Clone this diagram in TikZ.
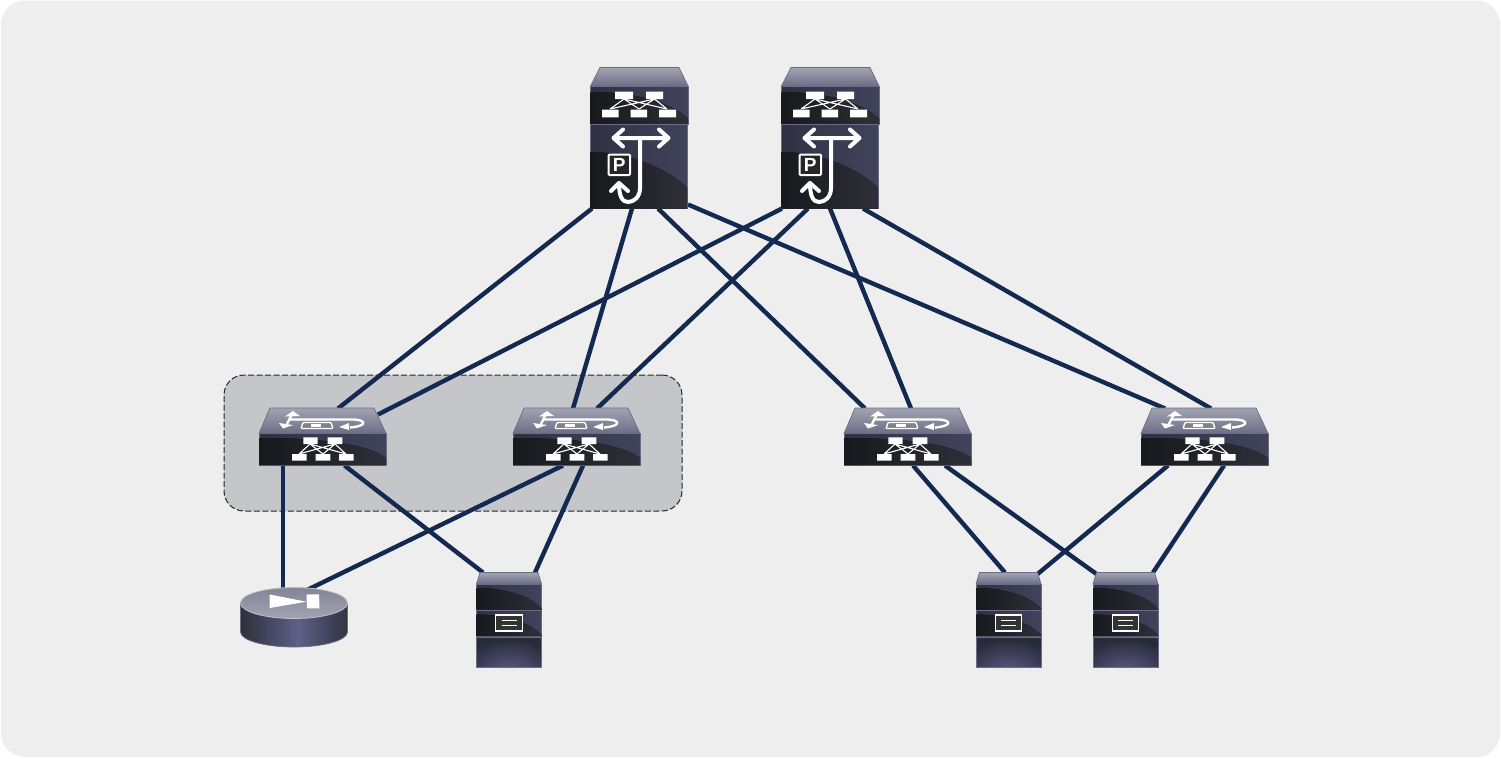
\documentclass[tikz,border=0pt]{standalone}
\usepackage{fontspec}
\setmainfont{Liberation Sans}
\usetikzlibrary{calc}
\definecolor{bgc}{HTML}{EEEEEE}
\definecolor{grp}{HTML}{C4C6CA}
\definecolor{lnk}{HTML}{14294F}
\definecolor{edgec}{HTML}{6A6C88}
\definecolor{bodyA}{HTML}{2F3142}
\definecolor{bodyB}{HTML}{41435C}
\definecolor{darkA}{HTML}{18191D}
\definecolor{darkB}{HTML}{2E2F38}
\definecolor{glow}{HTML}{5B5E88}
\definecolor{topL}{HTML}{A2A4B2}
\definecolor{topD}{HTML}{6C6E86}
\definecolor{cyA}{HTML}{4A4B5C}
\definecolor{cyB}{HTML}{2F3039}
\definecolor{cyC}{HTML}{454660}
\definecolor{cyD}{HTML}{5E6088}
\definecolor{cyE}{HTML}{3E3F55}
\definecolor{cyF}{HTML}{292A30}
\definecolor{cyG}{HTML}{4C4D5C}
\pgfdeclarehorizontalshading{cyl}{100bp}{
 color(0bp)=(cyA);color(25bp)=(cyB);color(38bp)=(cyC);color(52bp)=(cyD);color(68bp)=(cyE);color(82bp)=(cyF);color(100bp)=(cyG)}
\tikzset{
 link/.style={draw=lnk,line width=4.4pt},
 ic/.style={draw=white,line width=4pt,line cap=round,line join=round},
 icthin/.style={draw=white,line width=1.1pt},
 bodyshape/.style={left color=bodyA,right color=bodyB,draw=edgec,line width=.8pt},
 topface/.style={top color=topL,bottom color=topD,draw=edgec,line width=.7pt},
 port/.style={inner sep=0pt,outer sep=0pt,minimum size=0pt},
 coresw/.pic={
  \path[topface] (600,67.5)--(679,67.5)--(688,86)--(590.5,86)--cycle;
  \path[bodyshape] (590.5,86) rectangle (688,124);
  \begin{scope}
   \clip (590.5,86) rectangle (688,124);
   \fill[left color=darkA,right color=darkB] (590.5,92) .. controls (640,92) and (675,105) .. (688,119) -- (688,124) -- (590.5,124)--cycle;
  \end{scope}
  \path[bodyshape] (590.5,124) rectangle (687,208.5);
  \begin{scope}
   \clip (590.5,124) rectangle (687,208.5);
   \fill[left color=darkA,right color=darkB] (590.5,152) .. controls (630,152) and (670,170) .. (687,188) -- (687,208.5) -- (590.5,208.5)--cycle;
  \end{scope}
  \draw[icthin] (624,99)--(610,109) (624,99)--(639,109) (624,99)--(667,109)
   (654.5,99)--(610,109) (654.5,99)--(639,109) (654.5,99)--(667,109);
  \fill[white] (615,91.7) rectangle (633,99) (646,91.7) rectangle (663,99)
   (602,109.5) rectangle (618.7,117.3) (630.7,109.5) rectangle (647,117.3) (659,109.5) rectangle (676,117.3);
  \draw[ic] (614,138)--(668,138) (623,129.5)--(613.5,138)--(623,146.5) (659,129.5)--(668.5,138)--(659,146.5);
  \draw[ic] (640,138)--(640,188) .. controls (640,197) and (634,202) .. (628,202) .. controls (622,202) and (619,196) .. (619,183);
  \draw[ic] (611,191)--(619,183)--(628,191);
  \draw[white,fill=black!85,line width=2pt,rounded corners=1pt] (608.5,154.5) rectangle (630,175);
  \node[text=white,font=\bfseries\fontsize{19}{19}\selectfont,inner sep=0pt] (ptxt) at (619.3,164.8) {P};
 },
 leafsw/.pic={
  \path[topface] (270,408)--(374,408)--(386,433.5)--(259,433.5)--cycle;
  \path[bodyshape] (259,433.5) rectangle (386,465);
  \begin{scope}
   \clip (259,433.5) rectangle (386,465);
   \fill[left color=darkA,right color=darkB] (259,438) .. controls (310,438) and (365,442) .. (386,458) -- (386,465) -- (259,465)--cycle;
  \end{scope}
  \draw[icthin] (310,444)--(299,454) (310,444)--(323,454) (310,444)--(346,454)
   (335,444)--(299,454) (335,444)--(323,454) (335,444)--(346,454);
  \fill[white] (303.3,437.3) rectangle (317.7,444) (327.7,437.3) rectangle (342.3,444)
   (292,454) rectangle (306.7,460.7) (315.7,454) rectangle (330.3,460.7) (339,454) rectangle (353.7,460.7);
  \draw[white,line width=2.4pt,line join=round] (286,426)--(292,414)
    (290,419.5)--(354,419.5) .. controls (366,420) and (368,426) .. (350,427.5);
  \fill[white] (279,423)--(293,425)--(283,428.5)--cycle (285,416.5)--(293,411)--(300,416)--cycle;
  \fill[white] (339,427)--(349,423)--(349,430)--cycle;
  \draw[white,line width=1.4pt,rounded corners=1pt] (303,422.5)--(331,422.5)--(333,428.5)--(301,428.5)--cycle;
  \fill[white] (311,424.3) rectangle (321,427);
 },
 serverbox/.pic={
  \path[topface] (480,572.5)--(538,572.5)--(541.5,584)--(476.5,584)--cycle;
  \foreach \a/\b in {584/609.5,610.5/636}{
   \path[bodyshape] (476.5,\a) rectangle (541.5,\b);
   \begin{scope}
    \clip (476.5,\a) rectangle (541.5,\b);
    \fill[left color=darkA,right color=darkB] (476.5,\a+4) .. controls (505,\a+4) and (530,\a+12) .. (541.5,\b-1) -- (541.5,\b) -- (476.5,\b)--cycle;
   \end{scope}
  }
  \begin{scope}
   \clip (476.5,637) rectangle (541.5,667);
   \fill[bodyA!85!black] (476.5,637) rectangle (541.5,667);
   \shade[inner color=glow,outer color=bodyA!85!black] (509,674) ellipse (52 and 36);
  \end{scope}
  \draw[edgec,line width=.8pt] (476.5,637) rectangle (541.5,667);
  \draw[white,line width=1.1pt,fill=black!80] (495.7,615) rectangle (522.3,631);
  \draw[white,line width=1pt] (501.7,620.3)--(516.7,620.3) (501.7,625.7)--(516.7,625.7);
 },
 routerbox/.pic={
  \path[shading=cyl,draw=edgec,line width=.7pt] (240.5,603)--(240.5,632) arc[start angle=180,end angle=0,x radius=53.5,y radius=15] -- (347.5,603) -- cycle;
  \path[top color=topD!60!topL,bottom color=topL,draw=topL!70!white,line width=.8pt] (294,603) ellipse (53.5 and 15.5);
  \fill[white] (269.5,594.5)--(306.5,601.7)--(269.5,608)--cycle;
  \fill[white] (306.5,594.5)--(319,594.3)--(319.5,608.3)--(307,608.3)--cycle;
 }
}
\begin{document}
\begin{tikzpicture}[x=1pt,y=-1pt]
\useasboundingbox (0,0) rectangle (1501,758);
\fill[white] (0,0) rectangle (1501,758);
\fill[bgc,rounded corners=24pt] (1,0.5) rectangle (1500,757);
\node[draw=black!85,fill=grp,dash pattern=on 6pt off 2.5pt,line width=1pt,rounded corners=20pt,inner sep=0pt,minimum width=458pt,minimum height=136pt] (group) at (453,443) {};
% invisible anchors for the devices
\node[port,minimum width=98pt,minimum height=141pt] (core1) at (639,138) {};
\node[port,minimum width=98pt,minimum height=141pt] (core2) at (830,138) {};
\node[port,minimum width=127pt,minimum height=57pt] (leaf1) at (322.5,437) {};
\node[port,minimum width=127pt,minimum height=57pt] (leaf2) at (576.5,437) {};
\node[port,minimum width=127pt,minimum height=57pt] (leaf3) at (907.5,437) {};
\node[port,minimum width=127pt,minimum height=57pt] (leaf4) at (1204.5,437) {};
\node[port,minimum width=58pt,minimum height=95pt] (srv1) at (509,620) {};
\node[port,minimum width=58pt,minimum height=95pt] (srv2) at (1008,620) {};
\node[port,minimum width=58pt,minimum height=95pt] (srv3) at (1125,620) {};
\node[port,minimum width=108pt,minimum height=30pt] (rtr) at (294,603) {};
% connectors
\path[link] ([xshift=-47]core1.south)--([xshift=15.5]leaf1.north);
\path[link] ([xshift=-7]core1.south)--([xshift=-3.5]leaf2.north);
\path[link] ([xshift=19]core1.south)--([xshift=-42.5]leaf3.north);
\path[link] ([xshift=49,yshift=4]core1.south)--([xshift=-39.5]leaf4.north);
\path[link] ([xshift=-48]core2.south)--([xshift=55.5,yshift=-6]leaf1.north);
\path[link] ([xshift=-22]core2.south)--([xshift=20.5]leaf2.north);
\path[link] ([xshift=0]core2.south)--([xshift=3.5]leaf3.north);
\path[link] ([xshift=33]core2.south)--([xshift=6.5]leaf4.north);
\path[link] ([xshift=-39.5]leaf1.south)--([xshift=-11]rtr.north);
\path[link] ([xshift=22]leaf1.south)--([xshift=-26]srv1.north);
\path[link] ([xshift=-13.5]leaf2.south)--([xshift=13,yshift=-2]rtr.north);
\path[link] ([xshift=6.5]leaf2.south)--([xshift=26]srv1.north);
\path[link] ([xshift=5.5]leaf3.south)--([xshift=-3]srv2.north);
\path[link] ([xshift=37.5]leaf3.south)--([xshift=-25,yshift=-4]srv3.north);
\path[link] ([xshift=-36.5]leaf4.south)--([xshift=29,yshift=-2]srv2.north);
\path[link] ([xshift=19.5]leaf4.south)--([xshift=28]srv3.north);
% icons
\pic (icore1) at (0,0) {coresw};
\pic (icore2) at (191,0) {coresw};
\pic (ileaf1) at (0,0) {leafsw};
\pic (ileaf2) at (254,0) {leafsw};
\pic (ileaf3) at (585,0) {leafsw};
\pic (ileaf4) at (882,0) {leafsw};
\pic (isrv1) at (0,0) {serverbox};
\pic (isrv2) at (499.5,0) {serverbox};
\pic (isrv3) at (616.5,0) {serverbox};
\pic (irtr) at (0,0) {routerbox};
\end{tikzpicture}
\end{document}
